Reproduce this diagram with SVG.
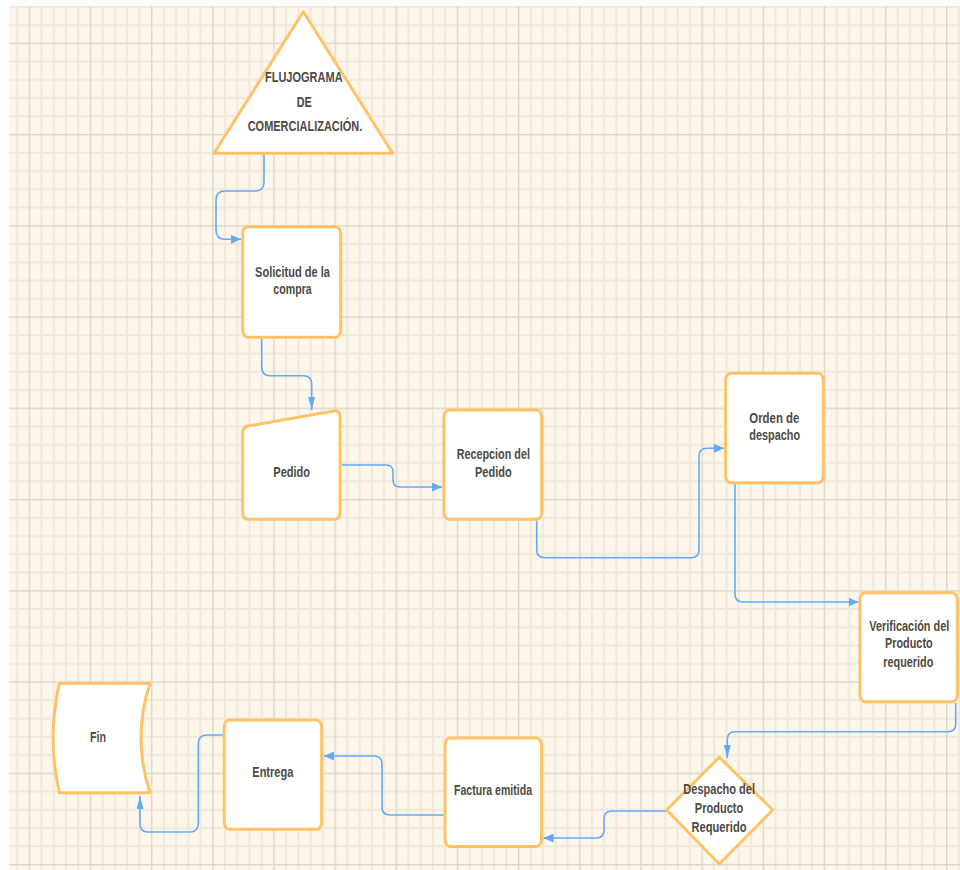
<svg xmlns="http://www.w3.org/2000/svg" width="960" height="870" viewBox="0 0 960 870">
  <style>
    .node { fill: #ffffff; stroke: #ffc266; stroke-width: 3; stroke-linejoin: round; }
    .lbl { font-family: "Liberation Sans", Arial, sans-serif; font-weight: bold; font-size: 14.5px; fill: #4f4a44; text-anchor: middle; }
    .conn { fill: none; stroke: #64aaf8; stroke-width: 1.6; }
    .ah { fill: #64aaf8; }
  </style>
  <defs>
    <pattern id="grid" patternUnits="userSpaceOnUse" x="28.65" y="42.65" width="61.16" height="91.25">
      <rect width="61.16" height="91.25" fill="#fdf6ea"/>
      <g stroke="#f0e8da" stroke-width="2">
        <line x1="12.88" y1="0" x2="12.88" y2="91.25"/>
        <line x1="25.11" y1="0" x2="25.11" y2="91.25"/>
        <line x1="37.35" y1="0" x2="37.35" y2="91.25"/>
        <line x1="49.58" y1="0" x2="49.58" y2="91.25"/>
        <line x1="0" y1="18.9" x2="61.16" y2="18.9"/>
        <line x1="0" y1="37.15" x2="61.16" y2="37.15"/>
        <line x1="0" y1="55.4" x2="61.16" y2="55.4"/>
        <line x1="0" y1="73.65" x2="61.16" y2="73.65"/>
      </g>
      <rect x="0" y="0" width="1.4" height="91.25" fill="#dcd7cb"/>
      <rect x="0" y="0" width="61.16" height="1.4" fill="#dcd7cb"/>
    </pattern>
    <marker id="arrH" viewBox="0 0 10 9" markerWidth="10" markerHeight="9" refX="10" refY="4.5" orient="auto" markerUnits="userSpaceOnUse">
      <path class="ah" d="M0,0 L10,4.5 L0,9 Z"/>
    </marker>
    <marker id="arrV" viewBox="0 0 13 7" markerWidth="13" markerHeight="7" refX="13" refY="3.5" orient="auto" markerUnits="userSpaceOnUse">
      <path class="ah" d="M0,0 L13,3.5 L0,7 Z"/>
    </marker>
  </defs>

  <rect x="0" y="0" width="960" height="870" fill="#ffffff"/>
  <rect x="9" y="6" width="951" height="864" fill="url(#grid)"/>

  <g id="connectors">
    <path class="conn" marker-end="url(#arrH)" d="M264,154.5 V182 Q264,191 255,191 H225 Q216,191 216,200 V230 Q216,239.3 225,239.3 H241"/>
    <path class="conn" marker-end="url(#arrV)" d="M261.7,338.5 V367 Q261.7,375.7 270,375.7 H303 Q311.7,375.7 311.7,384 V410"/>
    <path class="conn" marker-end="url(#arrH)" d="M341.5,465 H386 Q393,465 393,472 V480 Q393,487 400,487 H442"/>
    <path class="conn" marker-end="url(#arrH)" d="M536.7,520.5 V550 Q536.7,557.7 545,557.7 H691 Q699,557.7 699,550 V456 Q699,448.3 707,448.3 H724"/>
    <path class="conn" marker-end="url(#arrH)" d="M735,484 V594 Q735,602 743,602 H858.5"/>
    <path class="conn" marker-end="url(#arrV)" d="M955.7,703 V724 Q955.7,731.7 948,731.7 H735 Q727.3,731.7 727.3,739.5 V758"/>
    <path class="conn" marker-end="url(#arrH)" d="M666.5,811 H612 Q604,811 604,819 V830 Q604,838 596,838 H543.5"/>
    <path class="conn" marker-end="url(#arrH)" d="M444,815 H390 Q382,815 382,807 V764 Q382,756 374,756 H324"/>
    <path class="conn" marker-end="url(#arrV)" d="M223,735 H207 Q198.3,735 198.3,744 V823 Q198.3,832 190,832 H148 Q140,832 140,824 V796"/>
  </g>

  <g id="inicio">
    <polygon class="node" points="303.3,11.7 392.7,153.3 214,153.3"/>
    <text class="lbl" transform="translate(303.8,81.7) scale(0.75,1)" textLength="103.6" lengthAdjust="spacingAndGlyphs">FLUJOGRAMA</text>
    <text class="lbl" transform="translate(304.2,107.3) scale(0.75,1)" textLength="20" lengthAdjust="spacingAndGlyphs">DE</text>
    <text class="lbl" transform="translate(305,131) scale(0.75,1)" textLength="152.9" lengthAdjust="spacingAndGlyphs">COMERCIALIZACIÓN.</text>
  </g>

  <g id="solicitud">
    <rect class="node" x="242.7" y="226.7" width="98" height="110.6" rx="5" ry="7"/>
    <text class="lbl" transform="translate(292.5,277.3) scale(0.75,1)" textLength="100" lengthAdjust="spacingAndGlyphs">Solicitud de la</text>
    <text class="lbl" transform="translate(292.5,294) scale(0.75,1)" textLength="51.2" lengthAdjust="spacingAndGlyphs">compra</text>
  </g>

  <g id="pedido">
    <path class="node" d="M242.7,433 Q242.7,427 248.5,426 L334,411 Q340,410 340,416.5 V513 Q340,519.3 334,519.3 H248.7 Q242.7,519.3 242.7,513 Z"/>
    <text class="lbl" transform="translate(291.7,476.7) scale(0.75,1)" textLength="48.9" lengthAdjust="spacingAndGlyphs">Pedido</text>
  </g>

  <g id="recepcion">
    <rect class="node" x="444" y="410" width="97.7" height="109.3" rx="5" ry="7"/>
    <text class="lbl" transform="translate(493.3,459.3) scale(0.75,1)" textLength="97.7" lengthAdjust="spacingAndGlyphs">Recepcion del</text>
    <text class="lbl" transform="translate(493.3,476.7) scale(0.75,1)" textLength="48.9" lengthAdjust="spacingAndGlyphs">Pedido</text>
  </g>

  <g id="orden">
    <rect class="node" x="725.7" y="373.3" width="97.6" height="109.4" rx="5" ry="7"/>
    <text class="lbl" transform="translate(774.3,422.7) scale(0.75,1)" textLength="66.7" lengthAdjust="spacingAndGlyphs">Orden de</text>
    <text class="lbl" transform="translate(774.7,440) scale(0.75,1)" textLength="67.6" lengthAdjust="spacingAndGlyphs">despacho</text>
  </g>

  <g id="verificacion">
    <rect class="node" x="860" y="592.7" width="97.3" height="109" rx="5" ry="7"/>
    <text class="lbl" transform="translate(909.3,630.7) scale(0.75,1)" textLength="106.7" lengthAdjust="spacingAndGlyphs">Verificación del</text>
    <text class="lbl" transform="translate(908.8,648.3) scale(0.75,1)" textLength="63.6" lengthAdjust="spacingAndGlyphs">Producto</text>
    <text class="lbl" transform="translate(908.3,667) scale(0.75,1)" textLength="66.7" lengthAdjust="spacingAndGlyphs">requerido</text>
  </g>

  <g id="despacho">
    <polygon class="node" points="719.3,757.3 772.7,810 719.3,864 666.7,810"/>
    <text class="lbl" transform="translate(719.2,794) scale(0.75,1)" textLength="95.6" lengthAdjust="spacingAndGlyphs">Despacho del</text>
    <text class="lbl" transform="translate(719,812.7) scale(0.75,1)" textLength="64.4" lengthAdjust="spacingAndGlyphs">Producto</text>
    <text class="lbl" transform="translate(719,832.3) scale(0.75,1)" textLength="73.3" lengthAdjust="spacingAndGlyphs">Requerido</text>
  </g>

  <g id="factura">
    <rect class="node" x="445" y="738" width="96.5" height="108.5" rx="5" ry="7"/>
    <text class="lbl" transform="translate(493,795) scale(0.75,1)" textLength="104" lengthAdjust="spacingAndGlyphs">Factura emitida</text>
  </g>

  <g id="entrega">
    <rect class="node" x="224.3" y="720" width="97.4" height="109.3" rx="5" ry="7"/>
    <text class="lbl" transform="translate(272.8,776.7) scale(0.75,1)" textLength="54.7" lengthAdjust="spacingAndGlyphs">Entrega</text>
  </g>

  <g id="fin">
    <path class="node" d="M59.3,683.3 H150 Q132,738 150,792.7 H59.3 Q47,738 59.3,683.3 Z"/>
    <text class="lbl" transform="translate(98,741.7) scale(0.75,1)" textLength="21.3" lengthAdjust="spacingAndGlyphs">Fin</text>
  </g>
</svg>
